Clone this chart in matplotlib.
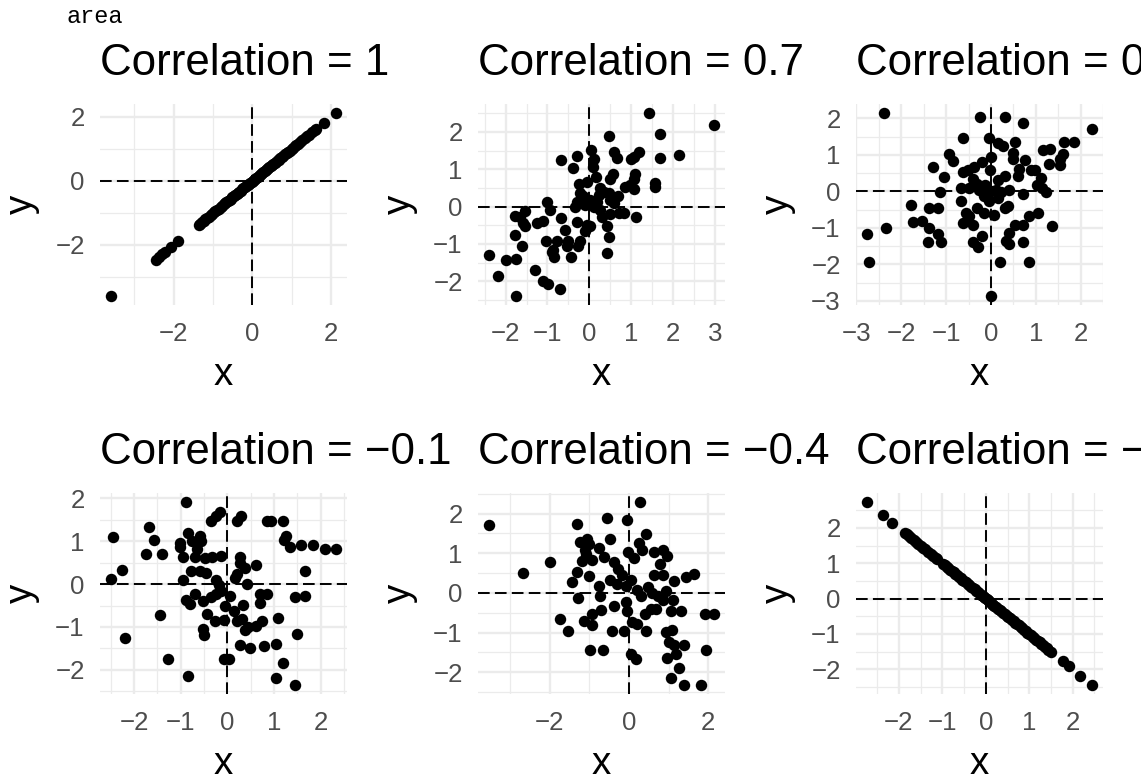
import matplotlib
matplotlib.use("Agg")
import matplotlib.pyplot as plt
from matplotlib.ticker import MultipleLocator, AutoMinorLocator

plt.rcParams['font.family'] = ['Liberation Sans', 'DejaVu Sans']

titles = ["Correlation = 1", "Correlation = 0.7", "Correlation = 0.3",
          "Correlation = \u22120.1", "Correlation = \u22120.4", "Correlation = \u22121"]

# panel 1: correlation 1
x1 = [-3.59, -2.46, -2.38, -2.29, -2.21, -2.07, -1.88,
      -1.37, -1.33, -1.29, -1.24, -1.2, -1.15, -1.11, -1.06, -1.02, -0.98, -0.94,
      -0.9, -0.86, -0.81, -0.77, -0.73, -0.7, -0.66, -0.62, -0.58, -0.55, -0.51,
      -0.47, -0.44, -0.4, -0.37, -0.33, -0.3, -0.26, -0.23, -0.19, -0.16, -0.12,
      -0.09, -0.05, -0.02, 0.01, 0.04, 0.07, 0.1, 0.13, 0.16, 0.19, 0.22, 0.25,
      0.28, 0.31, 0.34, 0.37, 0.4, 0.43, 0.47, 0.5, 0.53, 0.57, 0.6, 0.64, 0.67,
      0.71, 0.75, 0.79, 0.83, 0.87, 0.91, 0.95, 1.0, 1.04, 1.08, 1.12, 1.17, 1.22,
      1.27, 1.33, 1.39, 1.45, 1.52, 1.58, 1.62, 1.82, 2.12]
y1 = [-3.59, -2.46, -2.38, -2.29, -2.21, -2.07, -1.88,
      -1.37, -1.33, -1.29, -1.24, -1.2, -1.15, -1.11, -1.06, -1.02, -0.98, -0.94,
      -0.9, -0.86, -0.81, -0.77, -0.73, -0.7, -0.66, -0.62, -0.58, -0.55, -0.51,
      -0.47, -0.44, -0.4, -0.37, -0.33, -0.3, -0.26, -0.23, -0.19, -0.16, -0.12,
      -0.09, -0.05, -0.02, 0.01, 0.04, 0.07, 0.1, 0.13, 0.16, 0.19, 0.22, 0.25,
      0.28, 0.31, 0.34, 0.37, 0.4, 0.43, 0.47, 0.5, 0.53, 0.57, 0.6, 0.64, 0.67,
      0.71, 0.75, 0.79, 0.83, 0.87, 0.91, 0.95, 1.0, 1.04, 1.08, 1.12, 1.17, 1.22,
      1.27, 1.33, 1.39, 1.45, 1.52, 1.58, 1.62, 1.82, 2.12]

# panel 2: correlation 0.7
x2 = [1.42, 2.97, 0.46, 1.69, 0.04, 0.58, 0.66, 1.18, 1.06, 1.0, 1.69, 2.13,
      -0.67, -0.3, -0.39, 0.1, 0.08, 0.17, 0.56, 0.5, 1.1, 1.06, 0.97, 0.86,
      1.06, 1.56, 1.56, -0.06, -0.25, -0.22, -0.14, 0.26, 0.34, 0.22, 0.46,
      0.68, 0.58, 0.5, -0.3, -0.34, -0.1, 0.01, 0.1, 0.18, 0.26, 0.3, 0.5, 0.7,
      0.82, 1.12, -1.02, -0.94, -0.67, -0.3, -0.06, 0.01, 0.42, -0.58, -0.1,
      0.46, -1.54, -1.66, -1.78, -1.58, -1.54, -1.26, -1.1, -1.78, -1.04, -0.78,
      -0.5, -0.22, -0.26, -0.54, -0.86, -0.9, -0.84, -0.44, -1.6, 0.42, -2.39,
      -1.99, -1.74, -1.3, -2.19, -1.1, -0.98, -0.7, -1.74]
y2 = [2.5, 2.17, 1.9, 1.95, 1.52, 1.46, 1.3, 1.46, 1.33, 1.27, 1.31, 1.37,
      1.24, 1.35, 1.02, 1.26, 1.06, 0.78, 0.88, 0.75, 0.88, 0.75, 0.58, 0.53,
      0.47, 0.64, 0.51, 0.66, 0.6, 0.35, 0.27, 0.49, 0.4, 0.31, 0.35, 0.27,
      0.09, 0.18, 0.13, 0.0, 0.04, 0.18, 0.0, 0.13, -0.09, -0.27, -0.19, -0.18,
      -0.18, -0.29, 0.11, -0.09, -0.31, -0.42, -0.49, -0.53, -0.51, -0.64, -0.66,
      -0.81, -0.13, -0.27, -0.24, -0.44, -0.53, -0.44, -0.38, -0.75, -0.91,
      -0.93, -0.93, -0.93, -1.06, -1.06, -1.15, -1.22, -1.35, -1.35, -1.06,
      -1.24, -1.3, -1.42, -1.4, -1.7, -1.86, -1.99, -2.08, -2.21, -2.39]

# panel 3: correlation 0.3
x3 = [-2.39, -0.25, 0.32, 0.71, 2.25, -0.63, -0.05, 0.16, 0.28, 0.54, 0.5,
      0.5, 0.75, 1.64, 1.85, 1.16, 1.31, 1.61, 1.55, 1.54, 1.29, -0.93, -0.84,
      0.0, -0.21, -0.37, -1.29, -1.04, -0.63, -0.51, -0.03, 0.32, 0.16, 0.6,
      0.63, 0.9, 0.99, 1.12, 1.02, 1.14, 1.23, -0.41, -0.31, -0.13, -0.67,
      -0.49, -0.26, 0.0, 0.11, 0.22, 0.41, -0.16, -0.04, 0.16, -1.14, 0.71,
      -0.67, -1.78, -1.38, -1.19, 0.39, 0.32, -0.3, -0.56, -0.49, -0.16, 0.07,
      0.86, 1.04, -1.74, -1.53, -1.38, -1.19, -1.12, -1.4, -0.63, -0.39, 0.54,
      0.71, 1.36, 0.41, -0.21, -0.41, -0.28, 0.34, 0.41, 0.71, -2.76, -2.34,
      -2.72, 0.21, 0.84, 0.0]
y3 = [2.14, 2.03, 2.03, 1.88, 1.71, 1.47, 1.45, 1.32, 1.23, 1.35, 1.05, 0.88,
      0.85, 1.35, 1.36, 1.12, 1.15, 1.03, 0.88, 0.73, 0.75, 1.03, 0.82, 0.95,
      0.79, 0.66, 0.66, 0.39, 0.52, 0.59, 0.59, 0.43, 0.3, 0.41, 0.61, 0.59,
      0.59, 0.36, 0.18, 0.09, -0.03, 0.35, 0.21, 0.18, 0.09, 0.09, 0.05, 0.0,
      0.05, -0.03, 0.03, -0.14, -0.27, -0.18, -0.03, -0.06, -0.27, -0.37,
      -0.45, -0.45, -0.41, -0.45, -0.45, -0.59, -0.68, -0.59, -0.66, -0.68,
      -0.59, -0.84, -0.82, -1.0, -1.18, -1.38, -1.39, -0.86, -0.93, -0.93,
      -0.91, -0.94, -1.14, -1.21, -1.38, -1.52, -1.36, -1.44, -1.39, -1.18,
      -1.0, -1.93, -1.93, -1.94, -2.86]

# panel 4: correlation -0.1
x4 = [-2.45, -2.49, -2.25, -2.2, -1.69, -1.58, -1.75, -1.41, -1.45, -1.27,
      -0.88, -1.02, -1.02, -0.84, -0.77, -0.59, -0.56, -0.66, -0.96, -0.7,
      -0.49, -0.33, -0.13, -0.36, -0.25, -0.16, 0.21, 0.3, 0.84, 0.94, 1.19,
      1.26, 1.22, 1.34, 1.57, 1.84, 2.09, 2.32, 1.66, 1.44, 1.66, -0.79, -0.59,
      -0.45, -0.95, -0.25, -0.18, 0.26, 0.26, 0.37, 0.62, 0.21, 0.16, 0.41,
      -0.7, -0.88, -0.81, -0.52, -0.35, -0.24, -0.13, 0.06, -0.06, 0.34, 0.69,
      0.84, 0.7, -0.44, -0.27, -0.08, -0.52, -0.51, 0.14, 0.21, 0.32, 0.37,
      0.44, 0.62, 0.73, 1.09, 1.48, 0.26, 0.48, 0.78, 1.04, -0.08, 0.04, 1.19,
      1.05, 1.44, -0.84]
y4 = [1.09, 0.12, 0.32, -1.25, 1.34, 1.02, 0.71, 0.69, -0.71, -1.74, 1.91,
      0.96, 0.86, 1.19, 1.0, 1.12, 1.0, 0.81, 0.62, 0.62, 0.6, 0.62, 0.65,
      1.46, 1.59, 1.69, 1.48, 1.59, 1.46, 1.46, 1.46, 1.12, 1.02, 0.86, 0.9,
      0.92, 0.81, 0.82, 0.31, -0.31, -0.27, 0.31, 0.31, 0.25, 0.09, 0.09,
      -0.02, 0.63, 0.5, 0.38, 0.45, 0.23, 0.15, 0.0, -0.23, -0.38, -0.46,
      -0.4, -0.29, -0.23, -0.17, -0.28, -0.5, -0.48, -0.23, -0.22, -0.45,
      -0.69, -0.85, -0.83, -1.04, -1.19, -0.63, -0.85, -0.81, -1.06, -1.0,
      -0.98, -0.86, -0.78, -1.17, -1.42, -1.48, -1.44, -1.4, -1.74, -1.75,
      -1.85, -2.18, -2.35, -2.15]

# panel 5: correlation -0.4
x5 = [-3.53, -2.67, -2.0, -1.74, -1.55, -1.31, -1.25, -1.06, -1.0, -1.1,
      -1.19, -0.93, -1.08, -1.31, -1.44, -1.02, -1.29, -0.55, -0.06, 0.28,
      -0.48, -0.76, -0.62, -0.38, -0.28, -0.17, -0.48, -0.76, -0.74, -0.72,
      -0.93, -1.14, -0.93, -0.42, -0.13, -0.99, -0.65, -0.38, -0.08, -0.04,
      -0.3, -0.08, 0.06, -0.03, 0.13, 0.25, 0.34, 0.44, 0.19, 0.3, 0.08, 0.21,
      0.42, 0.4, 0.55, 0.68, 0.47, 0.57, 0.72, 0.85, 0.93, 1.1, 0.64, 0.85,
      1.14, 1.44, 1.65, 0.64, 0.85, 0.97, 0.79, 1.06, 1.31, 1.91, 2.14, 0.93,
      1.08, 1.0, 1.14, 1.38, 1.19, 0.96, 1.27, 1.06, 1.4, 1.81, 1.95, 0.04,
      0.17]
y5 = [1.71, 0.5, 0.77, -0.65, -0.96, 1.74, 1.29, 1.35, 1.24, 1.07, 0.81,
      0.83, 0.99, 0.52, 0.27, 0.43, -0.12, 1.89, 1.85, 2.29, 1.35, 1.14, 0.91,
      0.77, 0.6, 0.46, 0.33, 0.18, -0.07, -0.44, -0.53, -0.71, -0.82, -0.96,
      -0.96, -1.43, -1.43, -0.32, -0.23, -0.46, 0.23, 0.18, 0.33, 1.02, 0.89,
      1.27, 1.08, 1.49, 0.08, -0.07, -0.73, -0.78, -0.96, -0.53, -0.4, -0.4,
      0.14, -0.01, -0.09, -0.19, 0.04, -0.18, 0.46, 0.46, 0.31, 0.39, 0.48,
      1.02, 1.08, 0.93, 0.73, -0.46, -0.46, -0.53, -0.53, -0.98, -0.93,
      -1.23, -1.32, -1.32, -1.54, -1.63, -1.9, -2.15, -2.32, -2.32, -1.43,
      -1.53, -1.68]

# panel 6: correlation -1
x6 = [-2.73, -2.36, -2.15, -1.87, -1.82, -1.77, -1.72, -1.66, -1.6, -1.55,
      -1.5, -1.44, -1.39, -1.33, -1.27, -1.21, -1.15, -1.12, -0.98, -0.94,
      -0.9, -0.86, -0.82, -0.78, -0.74, -0.7, -0.66, -0.62, -0.58, -0.54,
      -0.5, -0.46, -0.42, -0.38, -0.34, -0.3, -0.26, -0.22, -0.18, -0.14,
      -0.1, -0.07, -0.04, -0.01, 0.02, 0.05, 0.08, 0.11, 0.14, 0.17, 0.2,
      0.24, 0.28, 0.32, 0.36, 0.4, 0.44, 0.48, 0.52, 0.56, 0.6, 0.64, 0.68,
      0.72, 0.76, 0.8, 0.84, 0.88, 0.92, 0.96, 1.0, 1.04, 1.08, 1.12, 1.16,
      1.2, 1.24, 1.28, 1.32, 1.36, 1.4, 1.44, 1.5, 1.77, 1.92, 2.18, 2.44]
y6 = [2.73, 2.36, 2.15, 1.87, 1.82, 1.77, 1.72, 1.66, 1.6, 1.55,
      1.5, 1.44, 1.39, 1.33, 1.27, 1.21, 1.15, 1.12, 0.98, 0.94,
      0.9, 0.86, 0.82, 0.78, 0.74, 0.7, 0.66, 0.62, 0.58, 0.54,
      0.5, 0.46, 0.42, 0.38, 0.34, 0.3, 0.26, 0.22, 0.18, 0.14,
      0.1, 0.07, 0.04, 0.01, -0.02, -0.05, -0.08, -0.11, -0.14, -0.17, -0.2,
      -0.24, -0.28, -0.32, -0.36, -0.4, -0.44, -0.48, -0.52, -0.56, -0.6,
      -0.64, -0.68, -0.72, -0.76, -0.8, -0.84, -0.88, -0.92, -0.96, -1.0,
      -1.04, -1.08, -1.12, -1.16, -1.2, -1.24, -1.28, -1.32, -1.36, -1.4,
      -1.44, -1.5, -1.77, -1.92, -2.18, -2.44]

xs = [x1, x2, x3, x4, x5, x6]
ys = [y1, y2, y3, y4, y5, y6]
x_steps = [2, 1, 1, 1, 2, 1]
y_steps = [2, 1, 1, 1, 1, 1]


def expand(vals):
    lo, hi = min(vals), max(vals)
    pad = 0.05 * (hi - lo)
    return lo - pad, hi + pad


W, H = 1141, 778
fig = plt.figure(figsize=(W / 100, H / 100), dpi=100)
fig.text(67 / W, 1 - 23 / H, "area", family="Liberation Mono", fontsize=17,
         va="baseline", ha="left")

lefts = [100, 478, 856]
tops = [104, 493]
pw, ph = 247, 201
dash = (0, (6.0, 2.7))

for i in range(6):
    r, c = divmod(i, 3)
    ax = fig.add_axes([lefts[c] / W, 1 - (tops[r] + ph) / H, pw / W, ph / H])
    for s in ax.spines.values():
        s.set_visible(False)
    ax.set_xlim(*expand(xs[i]))
    ax.set_ylim(*expand(ys[i]))
    ax.xaxis.set_major_locator(MultipleLocator(x_steps[i]))
    ax.yaxis.set_major_locator(MultipleLocator(y_steps[i]))
    ax.xaxis.set_minor_locator(AutoMinorLocator(2))
    ax.yaxis.set_minor_locator(AutoMinorLocator(2))
    ax.set_axisbelow(True)
    ax.grid(which="major", color="#EBEBEB", lw=1.7)
    ax.grid(which="minor", color="#EBEBEB", lw=0.9)
    ax.tick_params(which="both", length=0, labelsize=18.6, labelcolor="#4D4D4D")
    ax.tick_params(axis="x", pad=12)
    ax.tick_params(axis="y", pad=11)
    ax.axhline(0, color="black", lw=1.4, ls=dash, zorder=2)
    ax.axvline(0, color="black", lw=1.4, ls=dash, zorder=2)
    ax.scatter(xs[i], ys[i], s=68, color="black", linewidths=0, zorder=3)
    ax.set_xlabel("x", fontsize=27.7, labelpad=8)
    ax.set_ylabel("y", fontsize=27.7, labelpad=11)
    ax.set_title(titles[i], loc="left", fontsize=31.6, pad=21)

fig.savefig("out.png", dpi=100)
